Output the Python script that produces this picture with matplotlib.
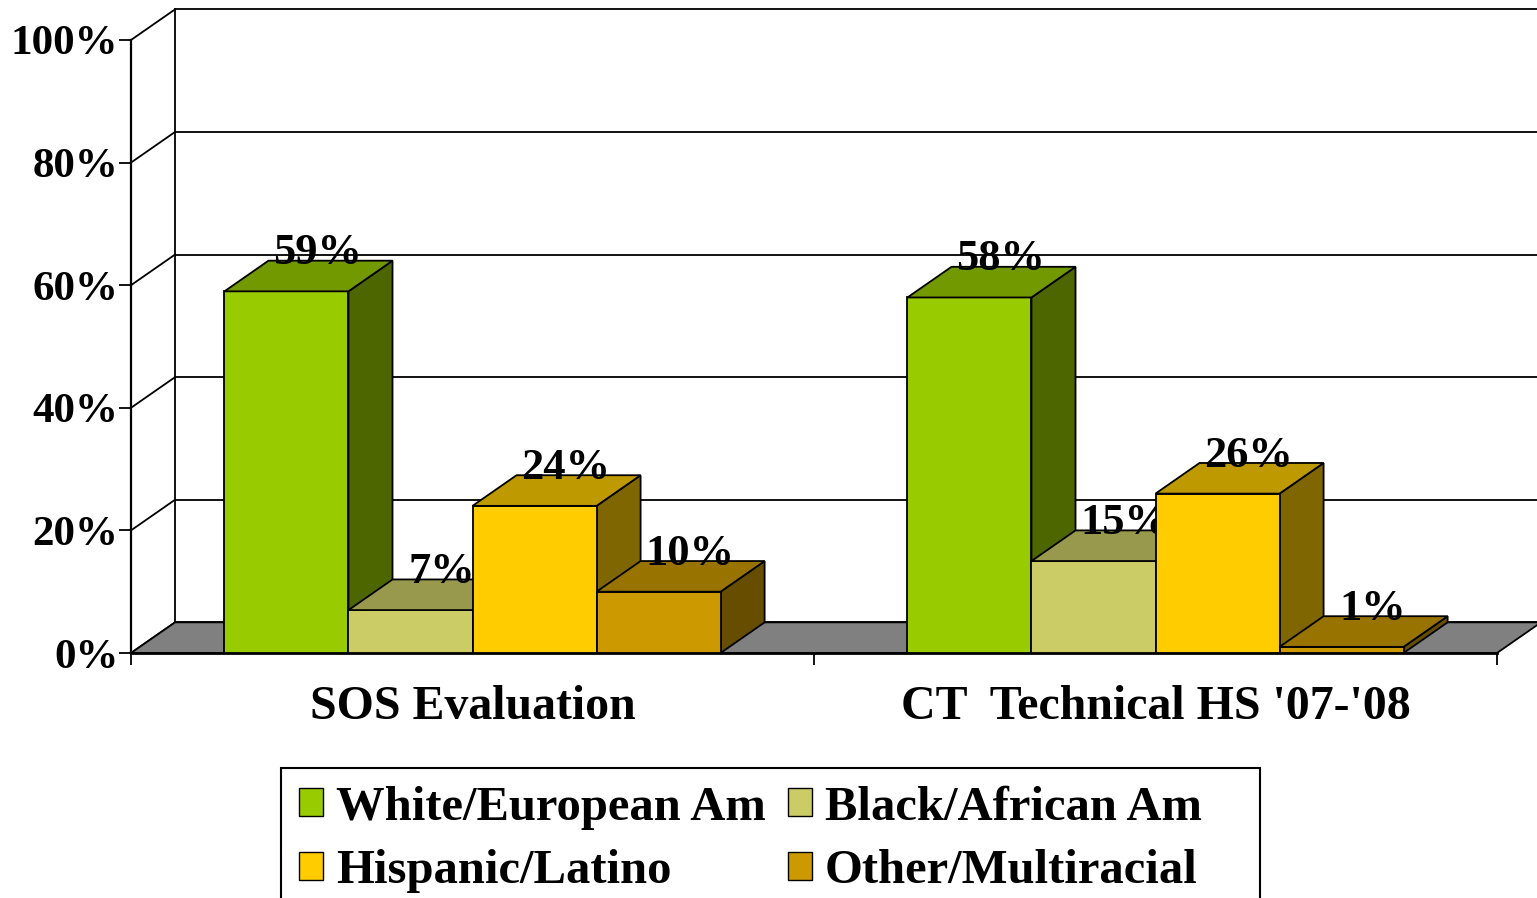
import matplotlib
matplotlib.use('Agg')
import matplotlib.pyplot as plt
from matplotlib.patches import Polygon, Patch, Rectangle
import numpy as np

groups = ['SOS Evaluation', "CT  Technical HS '07-'08"]
series = ['White/European Am', 'Black/African Am', 'Hispanic/Latino',
          'Other/Multiracial']
values = [[59, 7, 24, 10],
          [58, 15, 26, 1]]
labels = [['59%', '7%', '24%', '10%'],
          ['58%', '15%', '26%', '1%']]
colors = ['#99CC00', '#CCCC66', '#FFCC00', '#CC9900']
yticks = [0, 20, 40, 60, 80, 100]

plt.rcParams['font.family'] = ['Liberation Serif', 'DejaVu Serif']
plt.rcParams['font.weight'] = 'bold'


def shade(c, f):
    rgb = np.array(matplotlib.colors.to_rgb(c))
    return tuple(rgb * f)


fig = plt.figure(figsize=(15.37, 8.98), dpi=100)
ax = fig.add_axes([131 / 1537, 1 - 653 / 898, 1366 / 1537, 613 / 898])
ax.set_xlim(0, len(groups))
ax.set_ylim(0, 100)

# depth offset of the 3d look, in data units
dx = 0.0645
dy = 5.0
lw = 1.3

# back wall and side wall
for t in yticks:
    ax.plot([dx, len(groups) + dx], [t + dy, t + dy], color='black', lw=lw,
            clip_on=False, zorder=1)
    ax.plot([0, dx], [t, t + dy], color='black', lw=lw, clip_on=False,
            zorder=1)
ax.plot([dx, dx], [dy, 100 + dy], color='black', lw=lw, clip_on=False,
        zorder=1)

# floor
floor = Polygon([(0, 0), (len(groups), 0), (len(groups) + dx, dy), (dx, dy)],
                closed=True, facecolor='#808080', edgecolor='black', lw=lw,
                clip_on=False, zorder=2)
ax.add_patch(floor)

w = 0.1816
z = 3
for g in range(len(groups)):
    start = g + 0.5 - 2 * w
    for i, v in enumerate(values[g]):
        x0 = start + i * w
        c = colors[i]
        front = Polygon([(x0, 0), (x0 + w, 0), (x0 + w, v), (x0, v)],
                        facecolor=c, edgecolor='black', lw=lw,
                        clip_on=False, zorder=z)
        top = Polygon([(x0, v), (x0 + w, v), (x0 + w + dx, v + dy),
                       (x0 + dx, v + dy)],
                      facecolor=shade(c, 0.75), edgecolor='black', lw=lw,
                      clip_on=False, zorder=z)
        side = Polygon([(x0 + w, 0), (x0 + w + dx, dy),
                        (x0 + w + dx, v + dy), (x0 + w, v)],
                       facecolor=shade(c, 0.5), edgecolor='black', lw=lw,
                       clip_on=False, zorder=z)
        ax.add_patch(side)
        ax.add_patch(front)
        ax.add_patch(top)
        ax.text(x0 + w / 2 + 0.7 * dx, v + dy - 0.6, labels[g][i],
                ha='center', va='baseline', fontsize=32, fontweight='bold',
                zorder=z + 1)
        z += 1

# axes
for s in ['top', 'right']:
    ax.spines[s].set_visible(False)
ax.spines['left'].set_linewidth(1.6)
ax.spines['bottom'].set_linewidth(2)
ax.set_yticks(yticks)
ax.set_yticklabels(['{:d}%'.format(t) for t in yticks])
ax.set_xticks(np.arange(len(groups) + 1))
ax.set_xticklabels([])
ax.set_xticks(np.arange(len(groups)) + 0.5, minor=True)
ax.set_xticklabels(groups, minor=True)
ax.tick_params(axis='y', length=12 * 0.72, width=1.3, pad=0.5, labelsize=31)
ax.tick_params(axis='x', which='major', length=12 * 0.72, width=1.3)
ax.tick_params(axis='x', which='minor', length=0, pad=23, labelsize=34.5)
for lab in ax.get_yticklabels() + ax.get_xticklabels(minor=True):
    lab.set_fontweight('bold')

handles = [Patch(facecolor=c, edgecolor='black', lw=1) for c in colors]
order = [0, 2, 1, 3]
leg = fig.legend([handles[k] for k in order], [series[k] for k in order],
                 ncol=2, loc='upper left',
                 bbox_to_anchor=(281 / 1537, 1 - 768 / 898),
                 borderaxespad=0, frameon=False, handlelength=0.5,
                 handleheight=0.5, handletextpad=0.27, columnspacing=0.45,
                 labelspacing=0.4, borderpad=0.36,
                 prop={'weight': 'bold', 'size': 35})

# legend frame (runs past the bottom edge like the original)
fig.patches.append(Rectangle((281 / 1537, -0.05), 979 / 1537,
                             1 - 768 / 898 + 0.05, transform=fig.transFigure,
                             facecolor='none', edgecolor='black', lw=1.5,
                             figure=fig))

fig.savefig('out.png', dpi=100)
